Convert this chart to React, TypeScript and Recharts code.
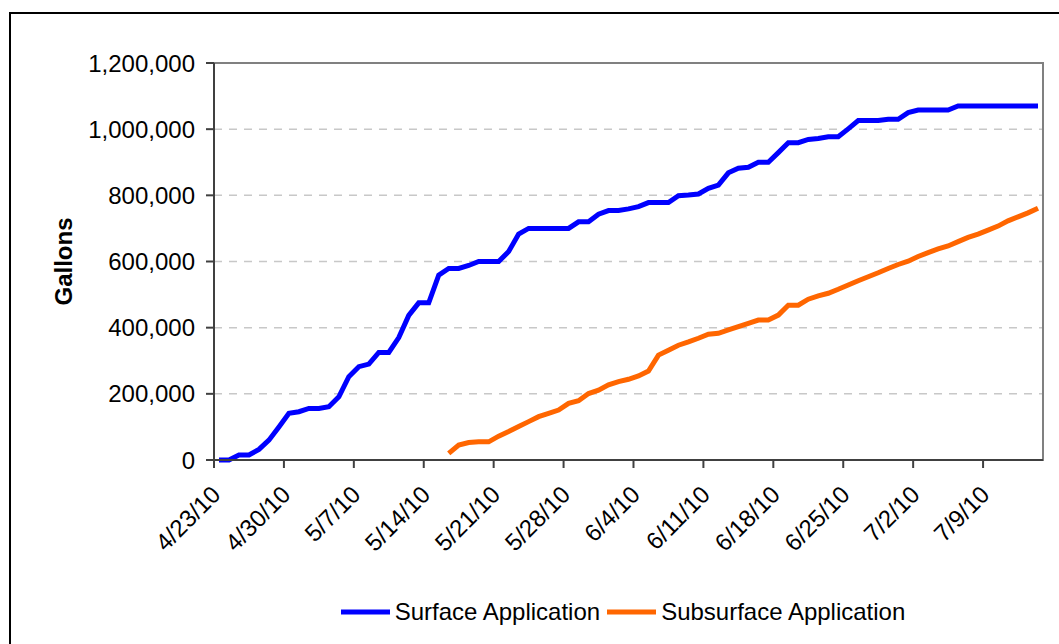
import {
  LineChart,
  Line,
  XAxis,
  YAxis,
  CartesianGrid,
  Legend,
  Label,
  ReferenceArea,
} from "recharts";

// cumulative gallons per day, starting 4/23/10
const surface = [
  0, 0, 15000, 15000, 32000, 60000, 100000, 141000, 146000, 156000,
  156000, 161000, 191000, 252000, 282000, 290000, 325000, 325000, 370000, 437000,
  475000, 475000, 559000, 579000, 579000, 588000, 600000, 600000, 600000, 630000,
  683000, 700000, 700000, 700000, 700000, 700000, 720000, 720000, 743000, 754000,
  754000, 759000, 766000, 778000, 778000, 778000, 799000, 801000, 804000, 821000,
  831000, 868000, 882000, 885000, 900000, 900000, 929000, 959000, 959000, 969000,
  972000, 977000, 977000, 1001000, 1026000, 1026000, 1026000, 1030000, 1030000, 1050000,
  1058000, 1058000, 1058000, 1058000, 1070000, 1070000, 1070000, 1070000, 1070000, 1070000,
  1070000, 1070000, 1070000,
];

const subsurface = [
  null, null, null, null, null, null, null, null, null, null,
  null, null, null, null, null, null, null, null, null, null,
  null, null, null, 20000, 45000, 53000, 55000, 55000, 72000, 86000,
  101000, 116000, 131000, 141000, 151000, 171000, 179000, 201000, 211000, 227000,
  237000, 244000, 254000, 269000, 317000, 332000, 347000, 357000, 368000, 380000,
  383000, 393000, 403000, 413000, 423000, 423000, 438000, 468000, 468000, 486000,
  496000, 504000, 516000, 529000, 542000, 554000, 566000, 579000, 591000, 601000,
  615000, 627000, 638000, 647000, 660000, 673000, 683000, 695000, 707000, 723000,
  735000, 747000, 761000,
];

const tickLabels = [
  "4/23/10", "4/30/10", "5/7/10", "5/14/10", "5/21/10", "5/28/10",
  "6/4/10", "6/11/10", "6/18/10", "6/25/10", "7/2/10", "7/9/10",
];

const yTicks = [0, 200000, 400000, 600000, 800000, 1000000, 1200000];

const data = surface.map((v, i) => ({
  day: i,
  surface: v,
  subsurface: subsurface[i],
}));

// date axis: each day is one slot, ticks sit on slot edges
const xTicks = tickLabels.map((_, i) => i * 7 - 0.5);

const FONT = "Arial, 'Liberation Sans', sans-serif";

function DateTick(props: any) {
  const { x, y, index } = props;
  const ax = x + 8;
  const ay = y + 26;
  return (
    <text
      x={ax}
      y={ay}
      textAnchor="end"
      transform={`rotate(-45, ${ax}, ${ay})`}
      fontSize={24}
      fontFamily={FONT}
      fill="#000"
    >
      {tickLabels[index]}
    </text>
  );
}

function LegendBox() {
  const items = [
    { name: "Surface Application", color: "#0000FF" },
    { name: "Subsurface Application", color: "#FF6600" },
  ];
  return (
    <div
      style={{
        display: "flex",
        justifyContent: "center",
        alignItems: "center",
        height: 40,
        paddingLeft: 210,
        fontFamily: FONT,
        fontSize: 24,
        color: "#000",
      }}
    >
      {items.map((it) => (
        <div key={it.name} style={{ display: "flex", alignItems: "center", marginRight: 7 }}>
          <svg width={49} height={10} style={{ marginRight: 5 }}>
            <line x1={0} y1={5} x2={49} y2={5} stroke={it.color} strokeWidth={5} />
          </svg>
          <span>{it.name}</span>
        </div>
      ))}
    </div>
  );
}

export default function App() {
  return (
    <div
      style={{
        position: "absolute",
        left: 0,
        top: 0,
        width: 1059,
        height: 644,
        overflow: "hidden",
        background: "#fff",
      }}
    >
      <div
        style={{
          position: "absolute",
          left: 9,
          top: 12,
          width: 1200,
          height: 800,
          borderLeft: "2px solid #000",
          borderTop: "2px solid #000",
        }}
      />
      <div style={{ position: "absolute", left: 0, top: 0 }}>
        <LineChart
          width={1059}
          height={644}
          data={data}
          margin={{ top: 63, right: 16, left: 0, bottom: 0 }}
        >
          <CartesianGrid
            horizontal
            vertical={false}
            stroke="#c8c8c8"
            strokeWidth={1.5}
            strokeDasharray="8 7"
          />
          <ReferenceArea
            x1={-0.5}
            x2={82.5}
            y1={0}
            y2={1200000}
            fill="none"
            stroke="#808080"
            strokeWidth={2}
            ifOverflow="visible"
          />
          <XAxis
            dataKey="day"
            type="number"
            domain={[-0.5, 82.5]}
            ticks={xTicks}
            interval={0}
            height={144}
            tickSize={8}
            tickMargin={2}
            stroke="#404040"
            strokeWidth={2}
            tick={<DateTick />}
          />
          <YAxis
            type="number"
            domain={[0, 1200000]}
            ticks={yTicks}
            interval={0}
            width={214}
            tickSize={8}
            tickMargin={11}
            stroke="#404040"
            strokeWidth={2}
            tick={{ fontSize: 24, fontFamily: FONT, fill: "#000" }}
            tickFormatter={(v: number) => v.toLocaleString("en-US")}
          >
            <Label
              content={(p: any) => {
                const vb = p.viewBox;
                const lx = vb.x + 72;
                const ly = vb.y + vb.height / 2;
                return (
                  <text
                    x={lx}
                    y={ly}
                    textAnchor="middle"
                    transform={`rotate(-90, ${lx}, ${ly})`}
                    fontSize={24}
                    fontWeight="bold"
                    fontFamily={FONT}
                    fill="#000"
                  >
                    Gallons
                  </text>
                );
              }}
            />
          </YAxis>
          <Legend
            verticalAlign="bottom"
            content={<LegendBox />}
            wrapperStyle={{ bottom: 12, height: 40 }}
          />
          <Line
            type="linear"
            dataKey="surface"
            name="Surface Application"
            stroke="#0000FF"
            strokeWidth={5}
            dot={false}
            isAnimationActive={false}
          />
          <Line
            type="linear"
            dataKey="subsurface"
            name="Subsurface Application"
            stroke="#FF6600"
            strokeWidth={5}
            dot={false}
            isAnimationActive={false}
          />
        </LineChart>
      </div>
    </div>
  );
}
